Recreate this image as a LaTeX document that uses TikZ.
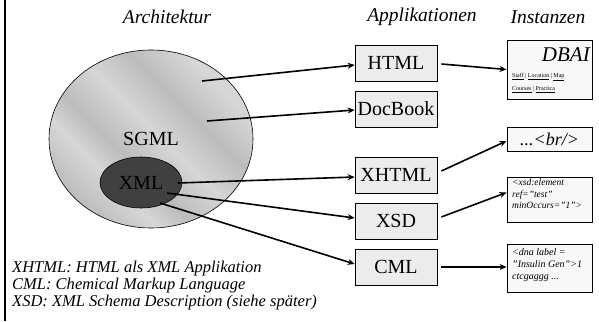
\documentclass[tikz,border=0pt]{standalone}
\usepackage{fontspec}
\setmainfont{Liberation Serif}
\usetikzlibrary{arrows.meta,shapes.geometric}
\definecolor{boxgray}{RGB}{236,236,236}
\definecolor{instfill}{RGB}{248,248,248}
\definecolor{xmlfill}{RGB}{64,64,64}
\definecolor{silA}{RGB}{188,188,188}
\definecolor{silB}{RGB}{214,214,214}
\pgfdeclarehorizontalshading{silver}{100bp}{color(0bp)=(silA); color(25bp)=(silA); color(35bp)=(silB); color(42bp)=(silA); color(52bp)=(silB); color(62bp)=(silA); color(72bp)=(silB); color(100bp)=(silB)}
\begin{document}
\begin{tikzpicture}[x=1pt,y=-1pt,
  titletext/.style={font=\fontsize{19.5}{22}\selectfont\itshape, inner sep=0},
  appbox/.style={draw, line width=0.7pt, fill=boxgray, minimum width=82pt, minimum height=36pt, inner sep=0, font=\fontsize{20}{24}\selectfont},
  instbox/.style={draw, line width=0.9pt, fill=instfill, inner sep=0},
  insttext/.style={font=\fontsize{9.5}{11.5}\selectfont\itshape, align=left, inner sep=0, anchor=north west},
  arr/.style={line width=1.6pt, -{Stealth[length=7pt,width=6pt]}},
  ]
\useasboundingbox (0,0) rectangle (599,321);
\draw[line width=2pt] (4.5,0) -- (4.5,321);

% titles
\node[titletext] (tarch) at (167,17) {Architektur};
\node[titletext] (tapp) at (422,17) {Applikationen};
\node[titletext] (tinst) at (548,17) {Instanzen};

% ellipses
\node[ellipse, draw, line width=0.6pt, shading=silver, shading angle=45, minimum width=204pt, minimum height=178pt, inner sep=0, font=\fontsize{20}{24}\selectfont] (sgml) at (151,139) {\raisebox{-3pt}{SGML}};
\node[ellipse, draw, line width=0.6pt, fill=xmlfill, minimum width=82pt, minimum height=51pt, inner sep=0, font=\fontsize{20}{24}\selectfont] (xml) at (141,182.5) {XML};

% application boxes
\node[appbox] (html) at (396,63) {HTML};
\node[appbox] (docbook) at (396,109) {DocBook};
\node[appbox] (xhtml) at (396,175) {XHTML};
\node[appbox] (xsd) at (396,221) {XSD};
\node[appbox] (cml) at (396,267) {CML};

% instance boxes
\node[instbox, minimum width=85pt, minimum height=59pt] (dbai) at (549.5,69.5) {};
\node[font=\fontsize{21}{24}\selectfont\itshape, inner sep=0, anchor=east] (dbaititle) at (590,55) {DBAI};
\node[font=\fontsize{6}{13}\selectfont, inner sep=0, anchor=north west, align=left] (dbailinks) at (512,73) {\underline{Staff} | \underline{Location} | \underline{Map}\\ \underline{Courses} | \underline{Practica}};

\node[instbox, minimum width=85pt, minimum height=24pt] (brinst) at (549.5,139) {};
\node[font=\fontsize{18}{20}\selectfont\itshape, inner sep=0] (brtext) at (549.5,139) {...<br/>};

\node[instbox, minimum width=85pt, minimum height=45pt] (xsdinst) at (549.5,199.5) {};
\node[insttext] (xsdtext) at (512,179) {<xsd:element\\ ref="test"\\ minOccurs="1">};

\node[instbox, minimum width=85pt, minimum height=48pt] (cmlinst) at (549.5,268) {};
\node[insttext, font=\fontsize{10}{12}\selectfont\itshape] (cmltext) at (512,248) {<dna label =\\ "Insulin Gen">1\\ ctcgaggg ...};

% legend
\node[font=\fontsize{16.5}{17}\selectfont\itshape, align=left, inner sep=0, anchor=north west] (legend) at (12,261) {XHTML: HTML als XML Applikation\\ CML: Chemical Markup Language\\ XSD: XML Schema Description (siehe später)};

% start points inside ellipses
\coordinate (s1) at (202,81);
\coordinate (s2) at (207,121);
\coordinate (s3) at (178,183);
\coordinate (s4) at (167,193);
\coordinate (s5) at (160,203);

\draw[arr] (s1) -- ([shift={(0,2)}]html.west);
\draw[arr] (s2) -- ([shift={(0,1)}]docbook.west);
\draw[arr] (s3) -- ([shift={(0,2)}]xhtml.west);
\draw[arr] (s4) -- ([shift={(0,-3)}]xsd.west);
\draw[arr] (s5) -- ([shift={(0,-3)}]cml.west);

\draw[arr] ([shift={(4,1)}]html.east) -- ([shift={(0,0)}]dbai.west);
\draw[arr] ([shift={(4,-4)}]xhtml.east) -- ([shift={(0,2)}]brinst.west);
\draw[arr] ([shift={(4,-4)}]xsd.east) -- ([shift={(0,-7)}]xsdinst.west);
\draw[arr] ([shift={(4,0)}]cml.east) -- ([shift={(0,-1)}]cmlinst.west);
\end{tikzpicture}
\end{document}
